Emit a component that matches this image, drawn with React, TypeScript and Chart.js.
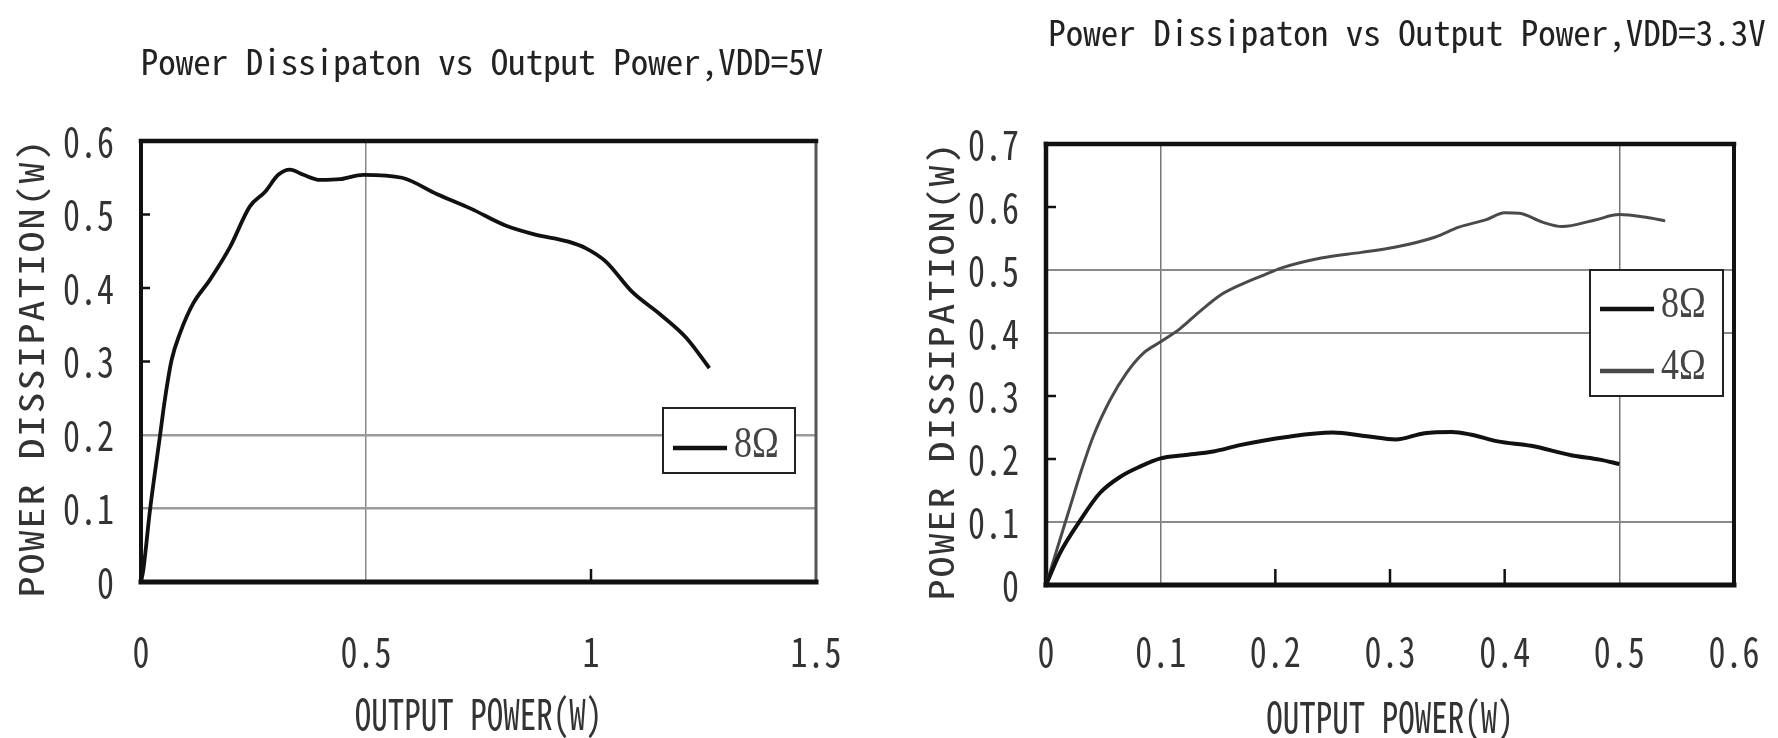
import React, { useEffect, useRef } from "react";
import { Chart, registerables } from "chart.js";

Chart.register(...registerables);

const FONT = "'Noto Sans Mono CJK SC', 'Noto Sans CJK SC', 'DejaVu Sans Mono', monospace";
const LEGEND_FONT = "'Liberation Serif', 'DejaVu Serif', serif";

// ---------- Left chart: VDD = 5V ----------
const leftTitle = "Power Dissipaton vs Output Power,VDD=5V";
const leftXTickLabels = ["0", "0.5", "1", "1.5"];
const leftYTickLabels = ["0", "0.1", "0.2", "0.3", "0.4", "0.5", "0.6"];
const left8x = [0, 0.005, 0.02, 0.042, 0.053, 0.068, 0.087, 0.116, 0.153, 0.198, 0.242, 0.276, 0.305, 0.331, 0.361, 0.398, 0.442, 0.494, 0.58, 0.657, 0.733, 0.81, 0.874, 0.95, 0.989, 1.033, 1.091, 1.154, 1.212, 1.263];
const left8y = [0, 0.016, 0.098, 0.198, 0.248, 0.302, 0.339, 0.379, 0.411, 0.456, 0.511, 0.531, 0.554, 0.561, 0.554, 0.547, 0.548, 0.554, 0.55, 0.528, 0.508, 0.485, 0.473, 0.463, 0.454, 0.436, 0.395, 0.364, 0.332, 0.291];

// ---------- Right chart: VDD = 3.3V ----------
const rightTitle = "Power Dissipaton vs Output Power,VDD=3.3V";
const rightXTickLabels = ["0", "0.1", "0.2", "0.3", "0.4", "0.5", "0.6"];
const rightYTickLabels = ["0", "0.1", "0.2", "0.3", "0.4", "0.5", "0.6", "0.7"];
const right8x = [0, 0.012, 0.03, 0.047, 0.065, 0.082, 0.1, 0.12, 0.146, 0.169, 0.21, 0.25, 0.28, 0.305, 0.33, 0.354, 0.37, 0.394, 0.423, 0.458, 0.483, 0.5];
const right8y = [0, 0.05, 0.103, 0.146, 0.172, 0.188, 0.201, 0.206, 0.212, 0.222, 0.235, 0.242, 0.236, 0.231, 0.241, 0.243, 0.239, 0.228, 0.221, 0.206, 0.199, 0.192];
const right4x = [0, 0.012, 0.021, 0.03, 0.041, 0.056, 0.07, 0.085, 0.1, 0.117, 0.134, 0.152, 0.169, 0.19, 0.205, 0.24, 0.275, 0.304, 0.339, 0.36, 0.384, 0.4, 0.413, 0.433, 0.45, 0.478, 0.5, 0.522, 0.54];
const right4y = [0, 0.071, 0.124, 0.177, 0.235, 0.294, 0.336, 0.368, 0.386, 0.407, 0.434, 0.46, 0.476, 0.492, 0.503, 0.519, 0.528, 0.536, 0.552, 0.568, 0.58, 0.591, 0.59, 0.576, 0.569, 0.579, 0.588, 0.584, 0.578];

const xTitle = "OUTPUT POWER(W)";
const yTitle = "POWER DISSIPATION(W)";

// text roles: font size (px) -> target glyph height (px), letter spacing, shift along the text
const TITLE_SIZE = 35;
const TICK_SIZE = 34;
const XTITLE_SIZE = 33;
const YTITLE_SIZE = 42;
const LEGEND_SIZE = 36;

type Role = { size: number; sample: string; target: number; ls: number; shift: number; family: string };
const ROLES: Role[] = [
  { size: TITLE_SIZE, sample: "H", target: 26, ls: 0, shift: 0, family: FONT },
  { size: TICK_SIZE, sample: "0", target: 29, ls: 0, shift: 0, family: FONT },
  { size: XTITLE_SIZE, sample: "H", target: 31, ls: 0, shift: 0, family: FONT },
  { size: YTITLE_SIZE, sample: "H", target: 25, ls: 2, shift: -6, family: FONT },
];

function glyphHeight(ctx: CanvasRenderingContext2D, font: string, sample: string): number {
  ctx.save();
  ctx.font = font;
  ctx.textBaseline = "alphabetic";
  const m = ctx.measureText(sample);
  ctx.restore();
  const h = m.actualBoundingBoxAscent + m.actualBoundingBoxDescent;
  return h > 0 ? h : 0.72 * parseFloat(font);
}

function patchContext(ctx: CanvasRenderingContext2D) {
  const stretch = ROLES.map((r) => ({
    size: r.size,
    ls: r.ls,
    shift: r.shift,
    k: r.target / glyphHeight(ctx, `${r.size}px ${r.family}`, r.sample),
  }));
  const orig = ctx.fillText;
  (ctx as any).fillText = function (text: string, x: number, y: number, maxWidth?: number) {
    const m = /(\d+(?:\.\d+)?)px/.exec(ctx.font);
    const size = m ? parseFloat(m[1]) : 0;
    const role = stretch.find((r) => Math.abs(r.size - size) < 0.01);
    if (!role) {
      if (maxWidth === undefined) orig.call(ctx, text, x, y);
      else orig.call(ctx, text, x, y, maxWidth);
      return;
    }
    ctx.save();
    ctx.translate(x + role.shift, y);
    ctx.scale(1, role.k);
    if (role.ls) (ctx as any).letterSpacing = `${role.ls}px`;
    if (maxWidth === undefined) orig.call(ctx, text, 0, 0);
    else orig.call(ctx, text, 0, 0, maxWidth);
    ctx.restore();
  };
}

type Series = { label: string; xs: number[]; ys: number[]; color: string; width: number };

type Spec = {
  canvasLeft: number;
  canvasWidth: number;
  area: { left: number; right: number; top: number; bottom: number };
  title: string;
  titleCenterY: number;
  xMax: number;
  xStep: number;
  yMax: number;
  yStep: number;
  xLabels: string[];
  yLabels: string[];
  xGrid: number[];
  yGrid: number[];
  xGridColor: string;
  xGridWidth: number;
  yGridColor: string;
  yGridWidth: number;
  xInner: number[];
  yInner: number[];
  xInnerLen: number;
  yInnerLen: number;
  frame: { top: number; left: number; bottom: number; right: number; rightColor: string };
  yTitleCenterX: number;
  xTitleCenterY: number;
  xTickCenterY: number;
  series: Series[];
  legend: { rightOff: number; topOff: number; w: number; h: number; rows: number[]; textRows: number[] };
};

const H = 738;

const near = (list: number[], v: number) => list.some((g) => Math.abs(g - v) < 1e-6);

function buildConfig(s: Spec): any {
  const titleLH = TITLE_SIZE * 1.2;
  const titlePadTop = s.titleCenterY - titleLH / 2;
  const titlePadBottom = s.area.top - titlePadTop - titleLH;

  const decor = {
    id: "decor",
    beforeDatasetsDraw(chart: any) {
      const { ctx, chartArea: a, scales } = chart;
      ctx.save();
      ctx.strokeStyle = "#111";
      ctx.lineCap = "butt";
      ctx.lineWidth = 2.5;
      s.yInner.forEach((v) => {
        const y = scales.y.getPixelForValue(v);
        ctx.beginPath();
        ctx.moveTo(a.left, y);
        ctx.lineTo(a.left + s.yInnerLen, y);
        ctx.stroke();
      });
      s.xInner.forEach((v) => {
        const x = scales.x.getPixelForValue(v);
        ctx.beginPath();
        ctx.moveTo(x, a.bottom);
        ctx.lineTo(x, a.bottom - s.xInnerLen);
        ctx.stroke();
      });
      const f = s.frame;
      ctx.lineCap = "square";
      ctx.strokeStyle = f.rightColor;
      ctx.lineWidth = f.right;
      ctx.beginPath();
      ctx.moveTo(a.right, a.top);
      ctx.lineTo(a.right, a.bottom);
      ctx.stroke();
      ctx.strokeStyle = "#111";
      ctx.lineWidth = f.top;
      ctx.beginPath();
      ctx.moveTo(a.left, a.top);
      ctx.lineTo(a.right, a.top);
      ctx.stroke();
      ctx.lineWidth = f.left;
      ctx.beginPath();
      ctx.moveTo(a.left, a.top);
      ctx.lineTo(a.left, a.bottom);
      ctx.stroke();
      ctx.lineWidth = f.bottom;
      ctx.beginPath();
      ctx.moveTo(a.left, a.bottom);
      ctx.lineTo(a.right, a.bottom);
      ctx.stroke();
      ctx.restore();
    },
    afterDatasetsDraw(chart: any) {
      const { ctx, chartArea: a } = chart;
      const L = s.legend;
      const bx = a.right + L.rightOff - L.w;
      const by = a.top + L.topOff;
      const legendFont = `${LEGEND_SIZE}px ${LEGEND_FONT}`;
      const kLegend = 30 / glyphHeight(ctx, legendFont, "8");
      ctx.save();
      ctx.fillStyle = "#fff";
      ctx.fillRect(bx, by, L.w, L.h);
      ctx.strokeStyle = "#222";
      ctx.lineWidth = 2;
      ctx.strokeRect(bx, by, L.w, L.h);
      s.series.forEach((se, i) => {
        ctx.strokeStyle = se.color;
        ctx.lineWidth = 4.5;
        ctx.beginPath();
        ctx.moveTo(bx + 10, by + L.rows[i]);
        ctx.lineTo(bx + 64, by + L.rows[i]);
        ctx.stroke();
        ctx.save();
        ctx.fillStyle = "#444";
        ctx.font = legendFont;
        ctx.textBaseline = "middle";
        ctx.textAlign = "left";
        ctx.translate(bx + 71, by + L.textRows[i]);
        ctx.scale(1, kLegend);
        ctx.fillText(se.label, 0, 0);
        ctx.restore();
      });
      ctx.restore();
    },
  };

  return {
    type: "line",
    data: {
      datasets: s.series.map((se) => ({
        label: se.label,
        data: se.xs.map((x, i) => ({ x, y: se.ys[i] })),
        borderColor: se.color,
        borderWidth: se.width,
        pointRadius: 0,
        cubicInterpolationMode: "monotone",
        fill: false,
        xAxisID: "x",
        yAxisID: "y",
      })),
    },
    options: {
      animation: false,
      responsive: false,
      devicePixelRatio: 1,
      events: [],
      layout: { padding: 0 },
      plugins: {
        legend: { display: false },
        tooltip: { enabled: false },
        title: {
          display: true,
          text: s.title,
          color: "#222",
          font: { family: FONT, size: TITLE_SIZE, weight: "normal", lineHeight: 1.2 },
          padding: { top: titlePadTop, bottom: titlePadBottom },
        },
      },
      scales: {
        x: {
          type: "linear",
          min: 0,
          max: s.xMax,
          border: { display: false },
          grid: {
            drawTicks: false,
            color: (c: any) => (c.tick && near(s.xGrid, c.tick.value) ? s.xGridColor : "rgba(0,0,0,0)"),
            lineWidth: s.xGridWidth,
          },
          ticks: {
            stepSize: s.xStep,
            padding: s.xTickCenterY - s.area.bottom - (TICK_SIZE * 1.2) / 2,
            color: "#333",
            font: { family: FONT, size: TICK_SIZE, lineHeight: 1.2 },
            maxRotation: 0,
            autoSkip: false,
            callback: (_v: any, i: number) => s.xLabels[i],
          },
          title: {
            display: true,
            text: xTitle,
            color: "#333",
            font: { family: FONT, size: XTITLE_SIZE, lineHeight: 1.2 },
            padding: { top: 0, bottom: Math.max(0, H - s.xTitleCenterY - (XTITLE_SIZE * 1.2) / 2) },
          },
          afterFit: (scale: any) => {
            scale.height = H - s.area.bottom;
          },
        },
        y: {
          type: "linear",
          min: 0,
          max: s.yMax,
          border: { display: false },
          grid: {
            drawTicks: false,
            color: (c: any) => (c.tick && near(s.yGrid, c.tick.value) ? s.yGridColor : "rgba(0,0,0,0)"),
            lineWidth: s.yGridWidth,
          },
          ticks: {
            stepSize: s.yStep,
            padding: 27,
            color: "#333",
            font: { family: FONT, size: TICK_SIZE, lineHeight: 1.2 },
            autoSkip: false,
            callback: (_v: any, i: number) => s.yLabels[i],
          },
          title: {
            display: true,
            text: yTitle,
            color: "#333",
            font: { family: FONT, size: YTITLE_SIZE, lineHeight: 1.2 },
            padding: { top: s.yTitleCenterX - (YTITLE_SIZE * 1.2) / 2, bottom: 0 },
          },
          afterFit: (scale: any) => {
            scale.width = s.area.left;
          },
        },
        // empty spacer on the right so the chart title stays centred on the whole canvas
        spacer: {
          type: "linear",
          position: "right",
          display: true,
          border: { display: false },
          grid: { display: false, drawTicks: false },
          ticks: { display: false },
          title: { display: false },
          afterFit: (scale: any) => {
            scale.width = s.canvasWidth - s.area.right;
          },
        },
      },
    },
    plugins: [decor],
  };
}

const leftSpec: Spec = {
  canvasLeft: 0,
  canvasWidth: 964,
  area: { left: 141, right: 816, top: 141, bottom: 582 },
  title: leftTitle,
  titleCenterY: 62,
  xMax: 1.5,
  xStep: 0.5,
  yMax: 0.6,
  yStep: 0.1,
  xLabels: leftXTickLabels,
  yLabels: leftYTickLabels,
  xGrid: [0.5],
  yGrid: [0.1, 0.2],
  xGridColor: "#888",
  xGridWidth: 1.5,
  yGridColor: "#9a9a9a",
  yGridWidth: 2.5,
  xInner: [1],
  yInner: [0.3, 0.4, 0.5],
  xInnerLen: 13,
  yInnerLen: 9,
  frame: { top: 4.5, left: 4, bottom: 5, right: 3, rightColor: "#555" },
  yTitleCenterX: 31,
  xTitleCenterY: 714,
  xTickCenterY: 651,
  series: [{ label: "8Ω", xs: left8x, ys: left8y, color: "#111", width: 3.8 }],
  legend: { rightOff: -21, topOff: 267, w: 132, h: 65, rows: [40], textRows: [37] },
};

const rightSpec: Spec = {
  canvasLeft: 889,
  canvasWidth: 1036,
  area: { left: 157, right: 845, top: 144, bottom: 585 },
  title: rightTitle,
  titleCenterY: 33,
  xMax: 0.6,
  xStep: 0.1,
  yMax: 0.7,
  yStep: 0.1,
  xLabels: rightXTickLabels,
  yLabels: rightYTickLabels,
  xGrid: [0.1, 0.5],
  yGrid: [0.1, 0.4, 0.5],
  xGridColor: "#777",
  xGridWidth: 1.5,
  yGridColor: "#8a8a8a",
  yGridWidth: 2,
  xInner: [0.2, 0.3, 0.4],
  yInner: [0.2, 0.3, 0.6],
  xInnerLen: 16,
  yInnerLen: 10,
  frame: { top: 4.5, left: 4.5, bottom: 5, right: 4, rightColor: "#111" },
  yTitleCenterX: 52,
  xTitleCenterY: 717,
  xTickCenterY: 651,
  series: [
    { label: "8Ω", xs: right8x, ys: right8y, color: "#111", width: 4 },
    { label: "4Ω", xs: right4x, ys: right4y, color: "#4a4a4a", width: 3 },
  ],
  legend: { rightOff: -11, topOff: 126, w: 133, h: 126, rows: [39, 101], textRows: [35, 97] },
};

function PanelChart({ spec }: { spec: Spec }) {
  const ref = useRef<HTMLCanvasElement | null>(null);
  useEffect(() => {
    const canvas = ref.current;
    if (!canvas) return;
    const ctx = canvas.getContext("2d");
    if (!ctx) return;
    patchContext(ctx);
    const chart = new Chart(ctx, buildConfig(spec));
    return () => chart.destroy();
  }, [spec]);
  return (
    <canvas
      ref={ref}
      width={spec.canvasWidth}
      height={H}
      style={{ position: "absolute", left: spec.canvasLeft, top: 0, width: spec.canvasWidth, height: H }}
    />
  );
}

export default function App() {
  return (
    <div
      style={{
        position: "absolute",
        left: 0,
        top: 0,
        width: 1778,
        height: H,
        overflow: "hidden",
        background: "#fff",
      }}
    >
      <PanelChart spec={leftSpec} />
      <PanelChart spec={rightSpec} />
    </div>
  );
}
